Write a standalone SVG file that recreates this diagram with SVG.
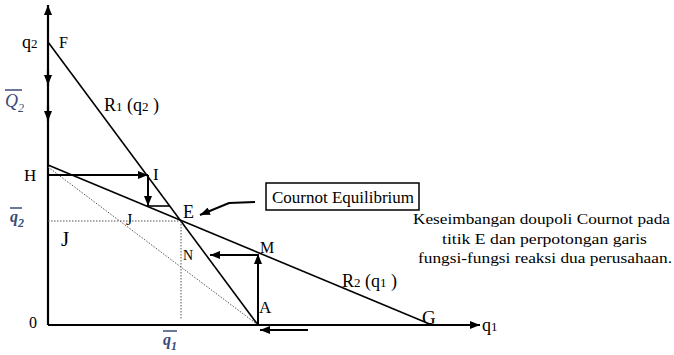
<svg xmlns="http://www.w3.org/2000/svg" width="674" height="355" viewBox="0 0 674 355">
<defs>
<marker id="ah" viewBox="0 0 10 8" refX="10" refY="4" markerWidth="10" markerHeight="8" markerUnits="userSpaceOnUse" orient="auto">
<path d="M0,0 L10,4 L0,8 Z" fill="#000"/>
</marker>
</defs>
<style>
.ax{stroke:#000;stroke-width:2.2;fill:none}
.ln{stroke:#000;stroke-width:1.6;fill:none}
.ar{stroke:#000;stroke-width:2;fill:none}
.dt{stroke:#555;stroke-width:1;stroke-dasharray:1.5,1.5;fill:none}
</style>
<rect width="674" height="355" fill="#fff"/>
<g id="connectors">
<line class="ax" x1="48" y1="325" x2="48" y2="5" marker-end="url(#ah)"/>
<line class="ax" x1="48" y1="325" x2="480" y2="325" marker-end="url(#ah)"/>
<line class="ax" x1="48" y1="70" x2="48" y2="85" marker-end="url(#ah)"/>
<line class="ax" x1="48" y1="106" x2="48" y2="121" marker-end="url(#ah)"/>
<line class="ln" x1="48" y1="42" x2="258" y2="325"/>
<line class="ln" x1="48" y1="165" x2="432" y2="325"/>
<line class="dt" x1="48" y1="167" x2="258" y2="325"/>
<line class="dt" x1="48" y1="221" x2="180" y2="221"/>
<line class="dt" x1="181" y1="221" x2="181" y2="320"/>
<line class="ar" x1="48" y1="175" x2="148" y2="175" marker-end="url(#ah)"/>
<line class="ar" x1="148" y1="175" x2="148" y2="206" marker-end="url(#ah)"/>
<line class="ln" x1="148" y1="206" x2="170" y2="206"/>
<line class="ar" x1="258" y1="325" x2="258" y2="254" marker-end="url(#ah)"/>
<line class="ar" x1="258" y1="255" x2="210" y2="255" marker-end="url(#ah)"/>
<line class="ar" x1="308" y1="330" x2="260" y2="330" marker-end="url(#ah)"/>
<polyline class="ar" points="255,202 229,203 200,215" marker-end="url(#ah)"/>
</g>
<g id="labels" font-family="'Liberation Serif', 'Times New Roman', serif" fill="#000">
<text x="22" y="48" font-size="18">q<tspan font-size="13">2</tspan></text>
<text x="59" y="48" font-size="16">F</text>
<text x="5" y="107" font-size="18" font-style="italic" fill="#3a4a7a">Q<tspan font-size="12" dy="5">2</tspan></text>
<line x1="5" y1="90" x2="22" y2="90" stroke="#3a4a7a" stroke-width="1.5"/>
<text x="104" y="111" font-size="18">R<tspan font-size="13">1</tspan> (q<tspan font-size="13">2</tspan> )</text>
<text x="24" y="181" font-size="17">H</text>
<text x="153" y="180" font-size="17">I</text>
<text x="183" y="218" font-size="18">E</text>
<text x="10" y="222" font-size="16" font-style="italic" font-weight="bold" fill="#3a4a7a">q<tspan font-size="12" dy="5">2</tspan></text>
<line x1="10" y1="208" x2="22" y2="208" stroke="#3a4a7a" stroke-width="1.5"/>
<text x="126" y="225" font-size="16">J</text>
<text x="61" y="246" font-size="21">J</text>
<text x="260" y="253" font-size="16">M</text>
<text x="183" y="260" font-size="14">N</text>
<text x="259" y="313" font-size="17">A</text>
<text x="29" y="328" font-size="16">0</text>
<text x="422" y="324" font-size="19">G</text>
<text x="482" y="331" font-size="18">q<tspan font-size="13">1</tspan></text>
<text x="342" y="287" font-size="18">R<tspan font-size="13">2</tspan> (q<tspan font-size="13">1</tspan> )</text>
<text x="163" y="345" font-size="16" font-style="italic" font-weight="bold" fill="#3a4a7a">q<tspan font-size="12" dy="5">1</tspan></text>
<line x1="163" y1="331" x2="177" y2="331" stroke="#3a4a7a" stroke-width="1.5"/>
</g>
<g id="cournot-box" font-family="'Liberation Serif', 'Times New Roman', serif">
<rect x="266" y="183" width="153" height="27" fill="#fff" stroke="#000" stroke-width="1.5"/>
<text x="272" y="203" font-size="17" textLength="142" lengthAdjust="spacingAndGlyphs">Cournot Equilibrium</text>
</g>
<g id="caption" font-family="'Liberation Serif', 'Times New Roman', serif" font-size="14" text-anchor="middle">
<text x="541.5" y="224" textLength="257" lengthAdjust="spacingAndGlyphs">Keseimbangan doupoli Cournot pada</text>
<text x="544.5" y="244" textLength="205" lengthAdjust="spacingAndGlyphs">titik E dan perpotongan garis</text>
<text x="545" y="263" textLength="254" lengthAdjust="spacingAndGlyphs">fungsi-fungsi reaksi dua perusahaan.</text>
</g>
</svg>
